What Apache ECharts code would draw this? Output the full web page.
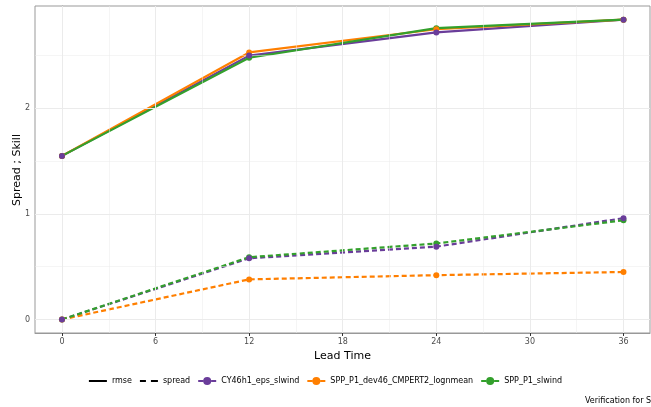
<!DOCTYPE html>
<html><head><meta charset="utf-8">
<script src="https://cdn.jsdelivr.net/npm/echarts@6/dist/echarts.min.js"></script>
<style>html,body{margin:0;padding:0;background:#fff}#chart{width:651px;height:407px}</style>
</head><body><div id="chart"></div>
<script>
var leadTimes = [0, 12, 24, 36];
var models = ['CY46h1_eps_slwind', 'SPP_P1_dev46_CMPERT2_lognmean', 'SPP_P1_slwind'];
var colors = ['#6a3d9a', '#ff7f00', '#33a02c'];
var rmse = [
  [1.55, 2.50, 2.72, 2.84],
  [1.55, 2.53, 2.75, 2.84],
  [1.55, 2.48, 2.76, 2.84]
];
var spread = [
  [0, 0.58, 0.69, 0.96],
  [0, 0.38, 0.42, 0.45],
  [0, 0.59, 0.72, 0.94]
];
var xTicks = [0, 6, 12, 18, 24, 30, 36];
var xMinor = [3, 9, 15, 21, 27, 33];
var yTicks = [0, 1, 2];
var yMinor = [0.5, 1.5, 2.5];

var font = 'DejaVu Sans';
var series = [];
function gl(vals, axis, w) {
  return vals.map(function (v) { var o = {}; o[axis] = v; o.lineStyle = {color: '#ebebeb', width: w, type: 'solid'}; return o; });
}
series.push({
  type: 'line', data: [], silent: true,
  markLine: {silent: true, symbol: 'none', label: {show: false}, animation: false,
    data: gl(xMinor, 'xAxis', 0.5).concat(gl(yMinor, 'yAxis', 0.5), gl(xTicks, 'xAxis', 1), gl(yTicks, 'yAxis', 1))}
});
series.push({name: 'rmse', type: 'line', data: [], symbol: 'none', lineStyle: {color: '#000', width: 2.5}, itemStyle: {color: '#000'}});
series.push({name: 'spread', type: 'line', data: [], symbol: 'none', lineStyle: {color: '#000', width: 2.5, type: [5, 3]}, itemStyle: {color: '#000'}});
[0, 1, 2].forEach(function (i) {
  [rmse, spread].forEach(function (arr, k) {
    var pts = leadTimes.map(function (t, j) { return [t, arr[i][j]]; });
    series.push({
      name: models[i], type: 'line', symbol: 'none', z: 2 + i,
      data: pts,
      lineStyle: {color: colors[i], width: 2.2, type: k ? [5, 3] : 'solid'},
      itemStyle: {color: colors[i]}
    });
    series.push({
      name: models[i], type: 'scatter', symbol: 'circle', symbolSize: 6, z: 8 - i,
      data: pts, itemStyle: {color: colors[i], opacity: 1, borderWidth: 0}
    });
  });
});

var lineIcon = 'path://M0,3.5h18v2H0z';
var dashIcon = 'path://M0,3.5h6v2H0zM11,3.5h7v2H11z';
var dotIcon = 'path://M0,3.5h5v2H0zM13,3.5h5v2H13zM5,4.5a4,4 0 1,0 8,0a4,4 0 1,0 -8,0z';
var legendData = [{name: 'rmse', icon: lineIcon}, {name: 'spread', icon: dashIcon}]
  .concat(models.map(function (m) { return {name: m, icon: dotIcon}; }));

var chart = echarts.init(document.getElementById('chart'));
chart.setOption({
  animation: false,
  grid: {left: 35, right: 1, top: 6, bottom: 74, outerBoundsMode: 'none', show: true, borderColor: '#999', borderWidth: 1},
  xAxis: {
    type: 'value', min: -1.73, max: 37.7,
    name: 'Lead Time', nameLocation: 'middle', nameGap: 16,
    nameTextStyle: {fontFamily: font, fontSize: 11, color: '#000'},
    axisLine: {show: true, onZero: false, lineStyle: {color: '#999'}},
    axisTick: {show: true, customValues: xTicks, length: 3, lineStyle: {color: '#333'}},
    axisLabel: {customValues: xTicks, fontFamily: font, fontSize: 8, color: '#4d4d4d', margin: 5},
    splitLine: {show: false}
  },
  yAxis: {
    type: 'value', min: -0.128, max: 2.97,
    axisLine: {show: true, lineStyle: {color: '#999'}},
    axisTick: {show: true, customValues: yTicks, length: 3, lineStyle: {color: '#333'}},
    axisLabel: {customValues: yTicks, fontFamily: font, fontSize: 8, color: '#4d4d4d', margin: 5},
    splitLine: {show: false}
  },
  legend: {
    bottom: 17, left: 'center', itemWidth: 18, itemHeight: 9, itemGap: 8,
    data: legendData,
    textStyle: {fontFamily: font, fontSize: 8, color: '#000'}
  },
  graphic: [
    {type: 'text', left: 585, top: 397, style: {text: 'Verification for S', fontFamily: font, fontSize: 8, fill: '#000'}},
    {type: 'text', x: 17, y: 170, rotation: Math.PI / 2,
      style: {text: 'Spread ; Skill', fontFamily: font, fontSize: 11, fill: '#000', align: 'center', verticalAlign: 'middle'}}
  ],
  series: series
});
</script></body></html>
